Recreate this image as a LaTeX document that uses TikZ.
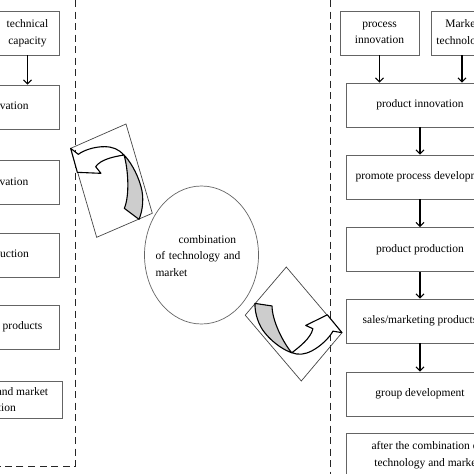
\documentclass[tikz,border=0pt]{standalone}
\usepackage{fontspec}
\setmainfont{Liberation Serif}
\usetikzlibrary{arrows.meta}
\definecolor{box_gray}{RGB}{100,100,100}
\definecolor{frame_gray}{RGB}{70,70,70}
\definecolor{ribbon_gray}{RGB}{205,205,205}

% twisted ribbon arrow inside its tilted frame (drawn at the upper left slot)
\newcommand{\twistarrow}{%
    \draw[twistframe] (70.67,148.33) -- (126,124) -- (152.3,213.3) -- (96.67,237.3) -- cycle;
    \filldraw[twistfront] (70.67,148.33) -- (78.33,154.33)
        .. controls (84,150) and (95,146.5) .. (105,146.67)
        .. controls (113,146.8) and (119,149.5) .. (124,155)
        .. controls (115,156.5) and (101,159) .. (95.67,166.67)
        -- (101,173.33) -- (77.33,172.33) -- cycle;
    \filldraw[twistback] (124,155)
        .. controls (129,160) and (137,172) .. (141,186.67)
        .. controls (144,197) and (143,210) .. (139,219.33)
        -- (124.33,208.33)
        .. controls (130,195) and (128,168) .. (124,155) -- cycle;
}

\begin{document}
\begin{tikzpicture}[x=1pt,y=-1pt,>={Straight Barb[length=4pt,width=8pt]}]
    \tikzstyle{stage}=[draw=box_gray, rectangle, line width=0.8pt, minimum height=44pt, inner sep=0pt, align=center, text=black, font=\fontsize{11.5}{16.5}\selectfont]
    \tikzstyle{wide}=[style=stage, minimum width=148pt]
    \tikzstyle{narrow}=[style=stage, minimum width=62pt]
    \tikzstyle{flow}=[->, line width=1.1pt, black]
    \tikzstyle{border}=[dash pattern=on 7pt off 4.5pt, line width=1pt, black!85]
    \tikzstyle{core}=[inner sep=0pt, text width=92pt, align=left, font=\fontsize{11.5}{16.5}\selectfont]
    \tikzstyle{coreline}=[draw=box_gray, line width=0.7pt]
    \tikzstyle{twistframe}=[draw=frame_gray, line width=0.7pt, line join=miter]
    \tikzstyle{twistfront}=[fill=white, draw=black, line width=1.1pt, line join=round]
    \tikzstyle{twistback}=[style=twistfront, fill=ribbon_gray]

    \useasboundingbox (0,0) rectangle (474,474);
    \clip (0,0) rectangle (474,474);

    % group frames
    \draw[border] (75,0) -- (75,466) -- (0,466);
    \draw[border] (330,0) -- (330,474);

    % technology side
    \node[narrow, minimum width=63pt] (techcap) at (27.5,33) {technical\\capacity};
    \node[wide] (lprod)  at (-15,107)   {product innovation};
    \node[wide] (lproc)  at (-15,182.5) {process innovation};
    \node[wide] (lmake)  at (-15,255)   {product production};
    \node[wide] (lsales) at (-15,327)   {sales/marketing products};
    \node[wide, minimum width=150pt, minimum height=37pt] (lcombo) at (-13,399.5) {the technology and market\\combination};

    % market side
    \node[narrow, minimum width=79pt] (procinnov) at (379.5,33) {process\\innovation};
    \node[narrow] (markettech) at (462,33) {Market\\technology};
    \node[wide] (rprod)    at (420,105)   {product innovation};
    \node[wide, minimum width=157pt] (rpromote) at (424.5,177) {promote process development};
    \node[wide] (rmake)    at (420,249.5) {product production};
    \node[wide] (rsales)   at (420,321)   {sales/marketing products};
    \node[wide] (rgroup)   at (420,394)   {group development};
    \node[wide, minimum width=162pt] (rafter) at (427,455) {after the combination of\\technology and market};

    % centre
    \node[core] (mix) at (201.5,256) {\hspace*{23pt}combination\\\makebox[92pt][s]{of technology and}\\market};
    \draw[coreline] (201.5,255) ellipse [x radius=57pt, y radius=69pt];

    \path
     (techcap.south) edge[flow] (techcap.south |- lprod.north)
     (procinnov.south) edge[flow] (procinnov.south |- rprod.north)
     (markettech.south) edge[flow] (markettech.south |- rprod.north)
     (rprod.south) edge[flow] (rprod.south |- rpromote.north)
     (rmake.north |- rpromote.south) edge[flow] (rmake.north)
     (rmake.south) edge[flow] (rsales.north)
     (rsales.south) edge[flow] (rgroup.north);

    % ribbon arrows
    \twistarrow
    \begin{scope}[cm={-0.8957,-0.4859,0.3642,-0.8802,(459.32pt,-428.92pt)}]
        \twistarrow
    \end{scope}
\end{tikzpicture}
\end{document}
